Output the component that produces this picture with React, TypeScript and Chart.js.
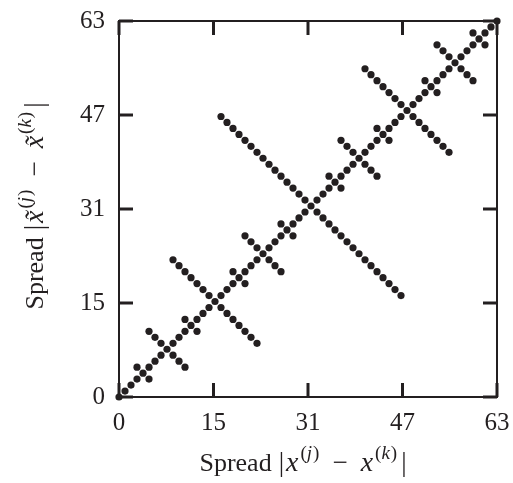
import React, { useEffect, useRef } from 'react';
import { Chart, registerables } from 'chart.js';

Chart.register(...registerables);

// Diagonal: spread of the original equals spread of the transformed sequence
const diagonal = [
  0, 1, 2, 3, 4, 5, 6, 7, 8, 9, 10, 11, 12, 13, 14, 15,
  16, 17, 18, 19, 20, 21, 22, 23, 24, 25, 26, 27, 28, 29, 30, 31,
  32, 33, 34, 35, 36, 37, 38, 39, 40, 41, 42, 43, 44, 45, 46, 47,
  48, 49, 50, 51, 52, 53, 54, 55, 56, 57, 58, 59, 60, 61, 62, 63,
];

// Short crosses (centres 4, 12, 20, 28, 36, 44, 52, 60)
const shortX = [3, 5, 11, 13, 19, 21, 27, 29, 35, 37, 43, 45, 51, 53, 59, 61];
const shortY = [5, 3, 13, 11, 21, 19, 29, 27, 37, 35, 45, 43, 53, 51, 61, 59];

// Medium crosses (centres 8, 24, 40, 56)
const mediumX = [
  5, 6, 7, 9, 10, 11,
  21, 22, 23, 25, 26, 27,
  37, 38, 39, 41, 42, 43,
  53, 54, 55, 57, 58, 59,
];
const mediumY = [
  11, 10, 9, 7, 6, 5,
  27, 26, 25, 23, 22, 21,
  43, 42, 41, 39, 38, 37,
  59, 58, 57, 55, 54, 53,
];

// Long crosses (centres 16, 48)
const longX = [
  9, 10, 11, 12, 13, 14, 15, 17, 18, 19, 20, 21, 22, 23,
  41, 42, 43, 44, 45, 46, 47, 49, 50, 51, 52, 53, 54, 55,
];
const longY = [
  23, 22, 21, 20, 19, 18, 17, 15, 14, 13, 12, 11, 10, 9,
  55, 54, 53, 52, 51, 50, 49, 47, 46, 45, 44, 43, 42, 41,
];

// Main anti-diagonal (centre 32)
const mainX = [
  17, 18, 19, 20, 21, 22, 23, 24, 25, 26, 27, 28, 29, 30, 31,
  33, 34, 35, 36, 37, 38, 39, 40, 41, 42, 43, 44, 45, 46, 47,
];
const mainY = [
  47, 46, 45, 44, 43, 42, 41, 40, 39, 38, 37, 36, 35, 34, 33,
  31, 30, 29, 28, 27, 26, 25, 24, 23, 22, 21, 20, 19, 18, 17,
];

const tickValues = [0, 15.75, 31.5, 47.25, 63];
const tickLabels = ['0', '15', '31', '47', '63'];

const INK = '#231f20';
const SERIF = "'Liberation Serif', 'Times New Roman', serif";

type Seg = { t: string; size: number; italic?: boolean; rise?: number; gap?: number };

function titleSegs(tilde: boolean): Seg[] {
  const x = tilde ? 'x\u0303' : 'x';
  return [
    { t: 'Spread', size: 26 },
    { t: '|', size: 27, gap: 7 },
    { t: x, size: 28, italic: true, gap: 2 },
    { t: '(', size: 19, rise: 12, gap: 2 },
    { t: 'j', size: 19, italic: true, rise: 12 },
    { t: ')', size: 19, rise: 12, gap: 1 },
    { t: '\u2212', size: 27, gap: 13 },
    { t: x, size: 28, italic: true, gap: 13 },
    { t: '(', size: 19, rise: 12, gap: 2 },
    { t: 'k', size: 19, italic: true, rise: 12 },
    { t: ')', size: 19, rise: 12, gap: 1 },
    { t: '|', size: 27, gap: 4 },
  ];
}

function fontOf(s: Seg) {
  return `${s.italic ? 'italic ' : ''}${s.size}px ${SERIF}`;
}

function drawSegs(ctx: CanvasRenderingContext2D, segs: Seg[], cx: number, baseline: number) {
  let total = 0;
  for (const s of segs) {
    ctx.font = fontOf(s);
    total += (s.gap || 0) + ctx.measureText(s.t).width;
  }
  let x = cx - total / 2;
  ctx.textBaseline = 'alphabetic';
  ctx.textAlign = 'left';
  for (const s of segs) {
    ctx.font = fontOf(s);
    x += s.gap || 0;
    ctx.fillText(s.t, x, baseline - (s.rise || 0));
    x += ctx.measureText(s.t).width;
  }
}

const framePlugin = {
  id: 'frameTicks',
  beforeDatasetsDraw(chart: any) {
    const { ctx, chartArea: a, scales } = chart;
    const xs = scales.x;
    const ys = scales.y;
    const L = 14;
    ctx.save();
    ctx.strokeStyle = INK;
    ctx.lineWidth = 2;
    ctx.strokeRect(a.left, a.top, a.right - a.left, a.bottom - a.top);
    ctx.lineWidth = 3;
    ctx.lineCap = 'butt';
    const seg = (x1: number, y1: number, x2: number, y2: number) => {
      ctx.beginPath();
      ctx.moveTo(x1, y1);
      ctx.lineTo(x2, y2);
      ctx.stroke();
    };
    for (const v of tickValues) {
      const px = xs.getPixelForValue(v);
      seg(px, a.bottom, px, a.bottom - L);
      seg(px, a.top, px, a.top + L);
      const py = ys.getPixelForValue(v);
      seg(a.left, py, a.left + L, py);
      seg(a.right, py, a.right - L, py);
    }
    ctx.restore();
  },
  afterDraw(chart: any) {
    const { ctx, chartArea: a } = chart;
    ctx.save();
    ctx.fillStyle = INK;
    drawSegs(ctx, titleSegs(false), (a.left + a.right) / 2 - 5, 471);
    ctx.translate(43, (a.top + a.bottom) / 2 - 3);
    ctx.rotate(-Math.PI / 2);
    drawSegs(ctx, titleSegs(true), 0, 0);
    ctx.restore();
  },
};

export default function App() {
  const ref = useRef<HTMLCanvasElement | null>(null);

  useEffect(() => {
    if (!ref.current) return;
    const points = [
      ...diagonal.map((v) => ({ x: v, y: v })),
      ...shortX.map((v, i) => ({ x: v, y: shortY[i] })),
      ...mediumX.map((v, i) => ({ x: v, y: mediumY[i] })),
      ...longX.map((v, i) => ({ x: v, y: longY[i] })),
      ...mainX.map((v, i) => ({ x: v, y: mainY[i] })),
    ];
    const tickFont = { family: SERIF, size: 25 };
    const chart = new Chart(ref.current, {
      type: 'scatter',
      data: {
        datasets: [
          {
            data: points,
            pointRadius: 3.6,
            pointHoverRadius: 3.6,
            pointBackgroundColor: INK,
            pointBorderWidth: 0,
            borderWidth: 0,
            clip: false as any,
          } as any,
        ],
      },
      options: {
        animation: false,
        responsive: false,
        maintainAspectRatio: false,
        events: [],
        layout: { padding: { left: 0, top: 18, right: 16, bottom: 0 } },
        plugins: {
          legend: { display: false },
          tooltip: { enabled: false },
        },
        scales: {
          x: {
            type: 'linear',
            position: 'bottom',
            min: 0,
            max: 63,
            afterBuildTicks: (s: any) => {
              s.ticks = tickValues.map((v) => ({ value: v }));
            },
            afterFit: (s: any) => {
              s.height = 86;
            },
            ticks: {
              callback: (_v: any, i: number) => tickLabels[i],
              font: tickFont,
              color: INK,
              padding: 3,
              maxRotation: 0,
              autoSkip: false,
            },
            grid: { display: false },
            border: { display: false },
          },
          y: {
            type: 'linear',
            position: 'left',
            min: 0,
            max: 63,
            afterBuildTicks: (s: any) => {
              s.ticks = tickValues.map((v) => ({ value: v }));
            },
            afterFit: (s: any) => {
              s.width = 119;
            },
            ticks: {
              callback: (_v: any, i: number) => tickLabels[i],
              font: tickFont,
              color: INK,
              padding: 6,
              autoSkip: false,
            },
            grid: { display: false },
            border: { display: false },
          },
        },
      } as any,
      plugins: [framePlugin],
    });
    return () => chart.destroy();
  }, []);

  return (
    <div style={{ position: 'fixed', left: 0, top: 0, width: 513, height: 483, background: '#fff' }}>
      <canvas ref={ref} width={513} height={483} style={{ display: 'block' }} />
    </div>
  );
}
